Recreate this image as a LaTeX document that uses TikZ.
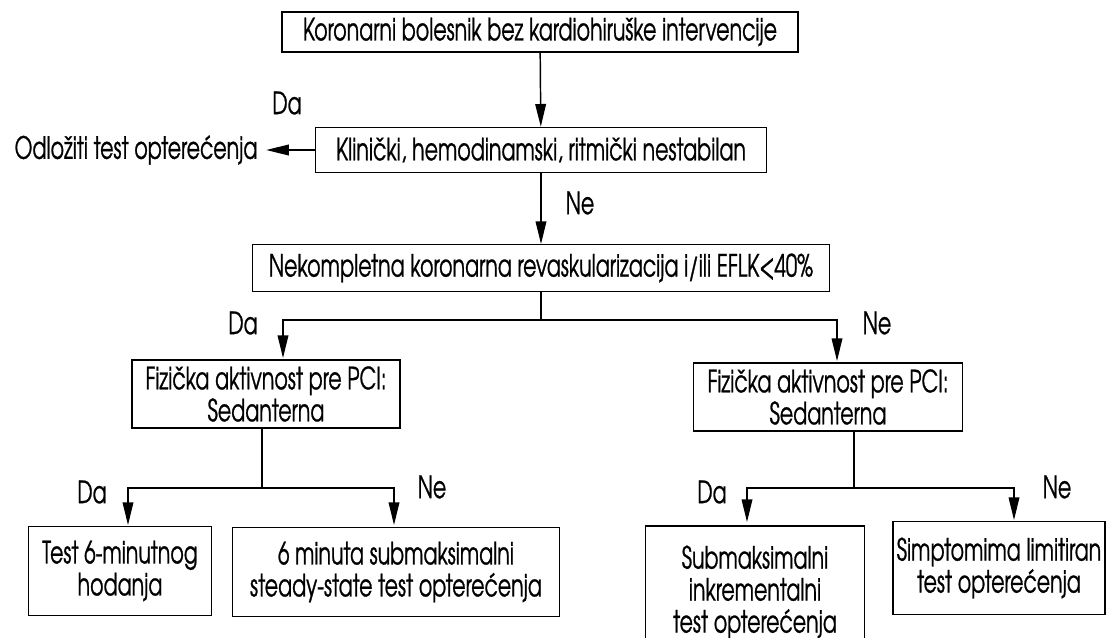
\documentclass[tikz,border=0pt]{standalone}
\usepackage{fontspec}
\setmainfont[FakeStretch=0.67,FakeBold=0.8]{TeX Gyre Adventor}
\usepackage{tikz}
\usetikzlibrary{arrows.meta}

\begin{document}
\begin{tikzpicture}[x=0.75pt,y=-0.75pt,>={Triangle[length=17pt,width=8pt]},line width=1.1pt,
  box/.style={draw,line width=1pt,align=center,inner sep=2pt,font=\fontsize{23}{24}\selectfont},
  lbl/.style={inner sep=0pt,font=\fontsize{23}{24}\selectfont}]
  \clip (0,0) rectangle (1109,637);
  \node[box,minimum width=387pt,minimum height=30pt] (b1) at (540,32) {Koronarni bolesnik bez kardiohiruške intervencije};
  \node[box,minimum width=338pt,minimum height=34pt] (b2) at (541,150) {Klinički, hemodinamski, ritmički nestabilan};
  \node[lbl] (delay) at (136,150) {Odložiti test opterećenja};
  \node[box,minimum width=433pt,minimum height=35pt] (b3) at (541,268) {Nekompletna koronarna revaskularizacija i/ili EFLK<40\%};
  \node[box,minimum width=201pt,minimum height=51pt] (b4l) at (266,394) {Fizička aktivnost pre PCI:\\Sedanterna};
  \node[box,minimum width=202pt,minimum height=51pt] (b4r) at (828,397) {Fizička aktivnost pre PCI:\\Sedanterna};
  \node[box,minimum width=137pt,minimum height=67pt] (b5a) at (120,571) {Test 6-minutnog\\hodanja};
  \node[box,minimum width=245pt,minimum height=67pt] (b5b) at (396,572) {6 minuta submaksimalni\\steady-state test opterećenja};
  \node[box,minimum width=164pt,minimum height=99pt] (b6a) at (755,592) {Submaksimalni\\inkrementalni\\test opterećenja};
  \node[box,minimum width=159pt,minimum height=70pt] (b6b) at (999,568) {Simptomima limitiran\\test opterećenja};
  % odgovori
  \node[lbl] (da1) at (287,103) {Da};
  \node[lbl] (ne1) at (580,203) {Ne};
  \node[lbl] (da2) at (243,323) {Da};
  \node[lbl] (ne2) at (877,323) {Ne};
  \node[lbl] (da3) at (92,492) {Da};
  \node[lbl] (ne3) at (432,487) {Ne};
  \node[lbl] (da4) at (712,492) {Da};
  \node[lbl] (ne4) at (1057,487) {Ne};
  % grananja
  \coordinate (j3) at (541,320);
  \coordinate (t4l) at (283,358);
  \coordinate (t4r) at (837,361);
  \coordinate (j4l) at (262,488);
  \coordinate (t5a) at (128,525);
  \coordinate (t5b) at (394,525);
  \coordinate (j4r) at (854,488);
  \coordinate (t6a) at (747,522);
  \coordinate (t6b) at (1014,520);
  \draw[->] (b1) -- (b2);
  \draw[->] (b2) -- (b3);
  \draw[->,shorten >=6pt] (b2) -- (delay);
  \draw (b3) -- (j3);
  \draw[->] (j3) -| (t4l);
  \draw[->] (j3) -| (t4r);
  \draw (b4l.south -| j4l) -- (j4l);
  \draw[->] (j4l) -| (t5a);
  \draw[->] (j4l) -| (t5b);
  \draw (b4r.south -| j4r) -- (j4r);
  \draw[->] (j4r) -| (t6a);
  \draw[->] (j4r) -| (t6b);
\end{tikzpicture}
\end{document}
